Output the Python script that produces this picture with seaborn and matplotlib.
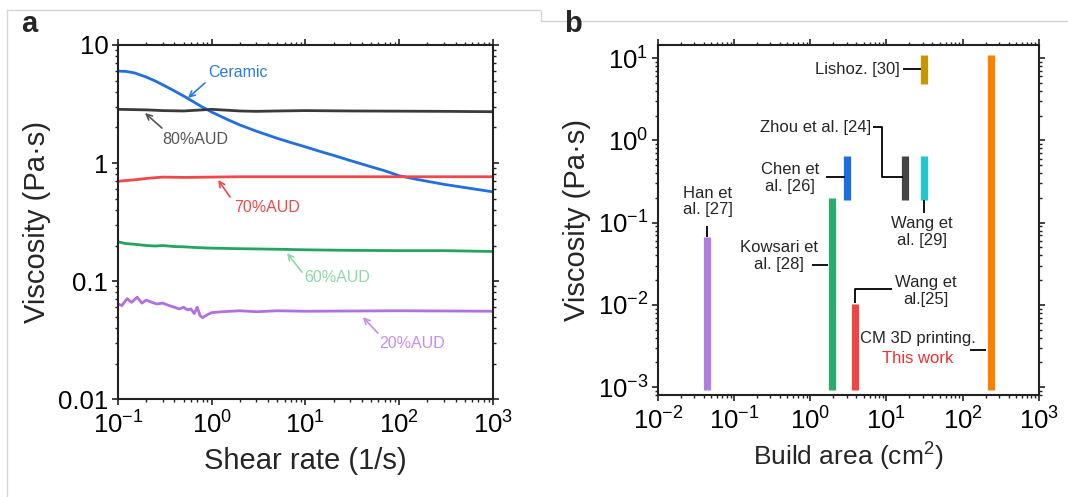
import numpy as np
import pandas as pd
import matplotlib
matplotlib.use("Agg")
import matplotlib.pyplot as plt
from matplotlib.lines import Line2D
from matplotlib.ticker import LogLocator, FixedLocator, FixedFormatter, NullFormatter
import seaborn as sns

sns.set_theme(style="ticks")
plt.rcParams['font.family'] = ['Liberation Sans', 'DejaVu Sans']
plt.rcParams['mathtext.fontset'] = 'custom'
plt.rcParams['mathtext.rm'] = 'Liberation Sans'
plt.rcParams['mathtext.it'] = 'Liberation Sans:italic'
plt.rcParams['mathtext.bf'] = 'Liberation Sans:bold'

# ---------------- Panel a data ----------------
shear_ceramic = [0.1, 0.12, 0.15, 0.2, 0.25, 0.3, 0.4, 0.5, 0.6, 0.8, 1, 1.5, 2, 3, 5, 7, 10, 15, 20, 30,
                 50, 70, 100, 150, 200, 300, 500, 700, 1000]
visc_ceramic = [6.0, 5.98, 5.8, 5.35, 4.95, 4.6, 4.08, 3.7, 3.4, 2.97, 2.7, 2.32, 2.1, 1.86, 1.62, 1.49,
                1.37, 1.24, 1.16, 1.05, 0.93, 0.86, 0.78, 0.73, 0.70, 0.66, 0.62, 0.595, 0.57]

shear_80 = [0.1, 0.2, 0.3, 0.5, 0.8, 1, 2, 3, 5, 10, 30, 100, 300, 1000]
visc_80 = [2.85, 2.82, 2.78, 2.76, 2.82, 2.85, 2.76, 2.74, 2.76, 2.78, 2.76, 2.75, 2.74, 2.72]

shear_70 = [0.1, 0.12, 0.15, 0.2, 0.3, 0.5, 1, 2, 5, 10, 100, 1000]
visc_70 = [0.70, 0.71, 0.72, 0.74, 0.76, 0.755, 0.76, 0.765, 0.765, 0.765, 0.765, 0.765]

shear_60 = [0.1, 0.12, 0.15, 0.2, 0.25, 0.3, 0.4, 0.5, 0.7, 1, 2, 5, 10, 30, 100, 300, 1000]
visc_60 = [0.215, 0.208, 0.205, 0.2, 0.198, 0.2, 0.196, 0.195, 0.192, 0.19, 0.188, 0.186, 0.184, 0.182, 0.181, 0.181, 0.178]

shear_20 = [0.1, 0.11, 0.125, 0.14, 0.16, 0.18, 0.2, 0.23, 0.26, 0.3, 0.35, 0.4, 0.45, 0.5, 0.55, 0.6,
            0.65, 0.7, 0.75, 0.8, 0.9, 1.0, 1.3, 2, 3, 5, 10, 100, 1000]
visc_20 = [0.064, 0.062, 0.071, 0.066, 0.073, 0.065, 0.069, 0.066, 0.064, 0.065, 0.062, 0.06, 0.058, 0.06,
           0.057, 0.058, 0.053, 0.06, 0.051, 0.049, 0.052, 0.054, 0.055, 0.056, 0.055, 0.056, 0.0555, 0.056, 0.0555]

series_a = {
    'Ceramic': (shear_ceramic, visc_ceramic),
    '80%AUD': (shear_80, visc_80),
    '70%AUD': (shear_70, visc_70),
    '60%AUD': (shear_60, visc_60),
    '20%AUD': (shear_20, visc_20),
}
line_colors = {'Ceramic': '#1f6fe0', '80%AUD': '#3a3a3a', '70%AUD': '#f04848',
               '60%AUD': '#22a560', '20%AUD': '#b070e0'}
label_colors = {'Ceramic': '#2a7ae8', '80%AUD': '#555555', '70%AUD': '#f04848',
                '60%AUD': '#8ed8a8', '20%AUD': '#c48ef0'}

# ---------------- Panel b data ----------------
refs = ['Han', 'Kowsari', 'Wang25', 'Chen', 'Zhou', 'Wang29', 'Lishoz', 'This work']
build_area = [0.044, 1.92, 3.85, 3.02, 17.4, 31.0, 31.5, 234]
visc_low = [0.00092, 0.00092, 0.00092, 0.19, 0.19, 0.19, 4.8, 0.00092]
visc_high = [0.066, 0.2, 0.0102, 0.64, 0.64, 0.64, 10.9, 10.9]
bar_colors = ['#b07de0', '#2eaa6a', '#f04545', '#1a6ee0', '#444444', '#20c8d0', '#c89600', '#ff7f00']

# ---------------- Figure ----------------
fig = plt.figure(figsize=(10.68, 4.97), dpi=100)
fig.patch.set_facecolor('white')
ax1 = fig.add_axes([0.1105, 0.197, 0.351, 0.7125])
ax2 = fig.add_axes([0.616, 0.2052, 0.3567, 0.7042])

# --- Panel a ---
df = pd.concat([pd.DataFrame({'shear': s, 'visc': v, 'sample': k}) for k, (s, v) in series_a.items()])
sns.lineplot(data=df, x='shear', y='visc', hue='sample', palette=line_colors, ax=ax1,
             linewidth=2.0, legend=False, estimator=None, sort=True)
ax1.set_xscale('log')
ax1.set_yscale('log')
ax1.set_xlim(0.1, 1000)
ax1.set_ylim(0.01, 10)

# annotations (text position, arrow tail, arrow head)
ann_a = [
    ('Ceramic', (1.905, 5.8), (0.847, 4.77), (0.558, 3.56)),
    ('80%AUD', (0.662, 1.57), (0.294, 1.98), (0.194, 2.65)),
    ('70%AUD', (3.88, 0.424), (1.57, 0.515), (1.17, 0.718)),
    ('60%AUD', (21.7, 0.108), (9.18, 0.119), (6.35, 0.173)),
    ('20%AUD', (137, 0.0298), (59.3, 0.0362), (41, 0.0495)),
]
for name, tpos, tail, head in ann_a:
    ax1.text(tpos[0], tpos[1], name, color=label_colors[name], fontsize=11.5, ha='center', va='center')
    ax1.annotate('', xy=head, xytext=tail,
                 arrowprops=dict(arrowstyle='->', color=label_colors[name], lw=1.2,
                                 shrinkA=0, shrinkB=0, mutation_scale=10))

ax1.yaxis.set_major_locator(FixedLocator([0.01, 0.1, 1, 10]))
ax1.yaxis.set_major_formatter(FixedFormatter(['0.01', '0.1', '1', '10']))
ax1.xaxis.set_major_locator(FixedLocator([0.1, 1, 10, 100, 1000]))
ax1.xaxis.set_major_formatter(FixedFormatter([r'$10^{-1}$', r'$10^{0}$', r'$10^{1}$', r'$10^{2}$', r'$10^{3}$']))
ax1.set_xlabel('Shear rate (1/s)', fontsize=21)
ax1.set_ylabel('Viscosity (Pa·s)', fontsize=21)
ax1.xaxis.set_label_coords(0.5, -0.135)
ax1.yaxis.set_label_coords(-0.18, 0.5)

# --- Panel b ---
for a, lo, hi, c in zip(build_area, visc_low, visc_high, bar_colors):
    ax2.vlines(a, lo, hi, colors=c, linewidth=5.2, capstyle='butt')
ax2.set_xscale('log')
ax2.set_yscale('log')
ax2.set_xlim(0.01, 1000)
ax2.set_ylim(0.0008, 14.4)

lk = dict(color='black', lw=1.3, solid_capstyle='butt')
ax2.plot([0.044, 0.044], [0.0906, 0.0667], **lk)
ax2.plot([1.60, 2.85], [0.357, 0.357], **lk)
ax2.plot([6.6, 8.7, 8.7, 16.4], [1.45, 1.45, 0.357, 0.357], **lk)
ax2.plot([31, 31], [0.188, 0.13], **lk)
ax2.plot([16.4, 28], [7.35, 7.35], **lk)
ax2.plot([1.05, 1.70], [0.0304, 0.0304], **lk)
ax2.plot([11.8, 3.85, 3.85], [0.0155, 0.0155, 0.0105], **lk)
ax2.plot([124, 201], [0.00282, 0.00282], **lk)

fs_b = 12
ax2.text(0.045, 0.182, 'Han et\nal. [27]', fontsize=fs_b, ha='center', va='center', linespacing=1.1)
ax2.text(0.54, 0.348, 'Chen et\nal. [26]', fontsize=fs_b, ha='center', va='center', linespacing=1.1)
ax2.text(6.3, 1.45, 'Zhou et al. [24]', fontsize=fs_b, ha='right', va='center')
ax2.text(15.0, 7.2, 'Lishoz. [30]', fontsize=fs_b, ha='right', va='center')
ax2.text(29.2, 0.0767, 'Wang et\nal. [29]', fontsize=fs_b, ha='center', va='center', linespacing=1.1)
ax2.text(0.387, 0.0392, 'Kowsari et\nal. [28]', fontsize=fs_b, ha='center', va='center', linespacing=1.1)
ax2.text(32.9, 0.0147, 'Wang et\nal.[25]', fontsize=fs_b, ha='center', va='center', linespacing=1.1)
ax2.text(25.8, 0.00394, 'CM 3D printing.', fontsize=fs_b, ha='center', va='center')
ax2.text(25.8, 0.00225, 'This work', fontsize=fs_b, ha='center', va='center', color='#f03030')

ax2.yaxis.set_major_locator(FixedLocator([0.001, 0.01, 0.1, 1, 10]))
ax2.yaxis.set_major_formatter(FixedFormatter([r'$10^{-3}$', r'$10^{-2}$', r'$10^{-1}$', r'$10^{0}$', r'$10^{1}$']))
ax2.xaxis.set_major_locator(FixedLocator([0.01, 0.1, 1, 10, 100, 1000]))
ax2.xaxis.set_major_formatter(FixedFormatter([r'$10^{-2}$', r'$10^{-1}$', r'$10^{0}$', r'$10^{1}$', r'$10^{2}$', r'$10^{3}$']))
ax2.set_xlabel(r'Build area (cm$^{2}$)', fontsize=19)
ax2.set_ylabel('Viscosity (Pa·s)', fontsize=21)
ax2.xaxis.set_label_coords(0.5, -0.13)
ax2.yaxis.set_label_coords(-0.176, 0.5)

for ax in (ax1, ax2):
    ax.xaxis.set_minor_locator(LogLocator(base=10, subs=np.arange(2, 10), numticks=20))
    ax.yaxis.set_minor_locator(LogLocator(base=10, subs=np.arange(2, 10), numticks=20))
    ax.xaxis.set_minor_formatter(NullFormatter())
    ax.yaxis.set_minor_formatter(NullFormatter())
    for s in ax.spines.values():
        s.set_linewidth(1.5)
        s.set_color('#222222')
    ax.tick_params(which='major', direction='out', length=4, width=1.2, labelsize=18.5,
                   top=True, right=True, colors='#222222', labelcolor='black')
    ax.tick_params(which='minor', direction='out', length=2.2, width=1.0,
                   top=True, right=True, colors='#222222')
    ax.tick_params(axis='x', which='major', pad=5)
    ax.tick_params(axis='y', which='major', pad=3)
    ax.set_facecolor('white')
    ax.grid(False)

# panel labels
fig.text(0.020, 0.935, 'a', fontsize=21, fontweight='bold', ha='left', va='baseline')
fig.text(0.528, 0.935, 'b', fontsize=21, fontweight='bold', ha='left', va='baseline')

# faint frame lines
gc = '#d4d4d4'
fig.add_artist(Line2D([7 / 1068, 540 / 1068], [1 - 10 / 497, 1 - 10 / 497], color=gc, lw=1))
fig.add_artist(Line2D([7 / 1068, 7 / 1068], [1 - 10 / 497, 0], color=gc, lw=1))
fig.add_artist(Line2D([541 / 1068, 1], [1 - 21 / 497, 1 - 21 / 497], color=gc, lw=1))
fig.add_artist(Line2D([541 / 1068, 541 / 1068], [1 - 11 / 497, 1 - 21 / 497], color=gc, lw=1))

fig.savefig('out.png', dpi=100, facecolor='white')
